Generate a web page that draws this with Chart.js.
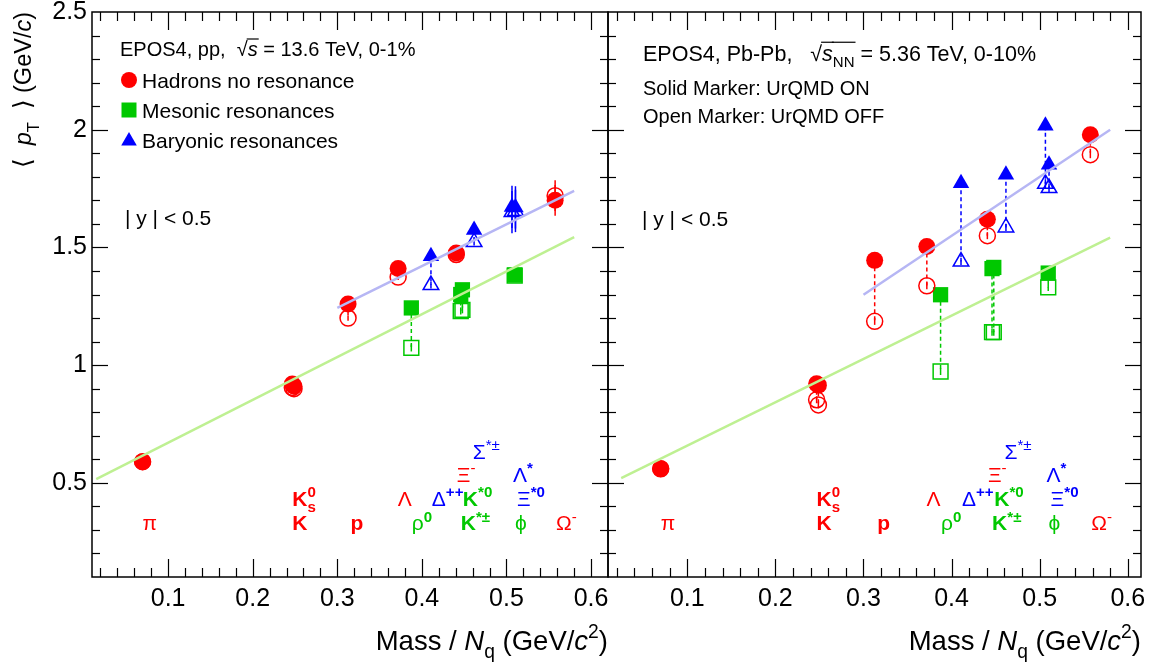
<!DOCTYPE html>
<html><head><meta charset="utf-8">
<script src="https://cdn.jsdelivr.net/npm/chart.js@4"></script>
<style>
html,body{margin:0;padding:0;background:#fff;}
#wrap{position:relative;width:1153px;height:663px;background:#fff;}
canvas{position:absolute;left:0;top:0;}
</style></head><body>
<div id="wrap"><canvas id="c1" width="1153" height="663"></canvas><canvas id="c2" width="1153" height="663"></canvas></div>
<script>
// ---------------- data ----------------
const xTickValues = [0.1, 0.2, 0.3, 0.4, 0.5, 0.6];
const yTickValues = [0.5, 1, 1.5, 2, 2.5];

const hadronNames = ['π', 'K', 'K0s', 'p', 'Λ', 'Ξ-', 'Ω-'];
const hadronMassNq = [0.0698, 0.2468, 0.2488, 0.3127, 0.3719, 0.4406, 0.5575];
const ppHadronOn  = [0.590, 0.920, 0.910, 1.260, 1.410, 1.476, 1.700];
const ppHadronOff = [0.590, 0.905, 0.900, 1.200, 1.374, 1.470, 1.720];
const ppHadronErr = [0.005, 0.005, 0.005, 0.012, 0.012, 0.012, 0.065];
const pbHadronOn  = [0.560, 0.921, 0.915, 1.445, 1.504, 1.620, 1.979];
const pbHadronOff = [0.560, 0.853, 0.831, 1.186, 1.337, 1.550, 1.894];
const pbHadronErr = [0.005, 0.015, 0.015, 0.015, 0.015, 0.015, 0.015];

const mesonNames = ['ρ0', 'K*0', 'K*±', 'φ'];
const mesonMassNq = [0.3875, 0.4479, 0.4459, 0.5097];
const ppMesonOn  = [1.243, 1.320, 1.300, 1.383];
const ppMesonOff = [1.073, 1.235, 1.230, 1.380];
const ppMesonErr = [0.015, 0.015, 0.015, 0.010];
const pbMesonOn  = [1.299, 1.415, 1.410, 1.391];
const pbMesonOff = [0.973, 1.140, 1.140, 1.330];
const pbMesonErr = [0.015, 0.015, 0.015, 0.015];

const baryonNames = ['Δ++', 'Σ*±', 'Λ*', 'Ξ*0'];
const baryonMassNq = [0.4107, 0.4617, 0.5065, 0.5106];
const ppBaryonOn  = [1.463, 1.574, 1.672, 1.670];
const ppBaryonOff = [1.340, 1.523, 1.650, 1.655];
const ppBaryonErr = [0.015, 0.015, 0.090, 0.090];
const pbBaryonOn  = [1.773, 1.809, 2.017, 1.851];
const pbBaryonOff = [1.440, 1.585, 1.770, 1.752];
const pbBaryonErr = [0.015, 0.015, 0.020, 0.020];

const hadronFitX = [0.300, 0.580];
const ppHadronFit = [1.243, 1.740];
const pbHadronFit = [1.299, 2.000];
const ppMesonFitX = [0.015, 0.580];
const pbMesonFitX = [0.025, 0.580];
const ppMesonFit = [0.516, 1.544];
const pbMesonFit = [0.520, 1.542];

// ---------------- styling ----------------
const FAM = '"Liberation Sans", Arial, Helvetica, "DejaVu Sans", sans-serif';
const RED = '#ff0000', GREEN = '#00c800', BLUE = '#0000ff';
const FITB = '#b6b6f4', FITG = '#bef092';

function pts(xs, ys) { return xs.map((x, i) => ({x: x, y: ys[i]})); }

function segFont(sg, size) { return (sg.f || '') + (size * (sg.s || 1)).toFixed(1) + 'px ' + (sg.fam || FAM); }
function measureRich(ctx, segs, size) {
  let w = 0;
  for (const sg of segs) { ctx.font = segFont(sg, size); if (sg.nx !== false) w += ctx.measureText(sg.t).width + (sg.gap || 0) * size; }
  return w;
}
function drawRich(ctx, segs, x, y, size, color, align) {
  const W = measureRich(ctx, segs, size);
  let cx = align === 'right' ? x - W : (align === 'center' ? x - W / 2 : x);
  const base = y + 0.36 * size;
  ctx.fillStyle = color; ctx.strokeStyle = color; ctx.textAlign = 'left'; ctx.textBaseline = 'alphabetic';
  for (const sg of segs) {
    ctx.font = segFont(sg, size);
    const w = ctx.measureText(sg.t).width;
    const by = base + (sg.dy || 0) * size;
    ctx.fillText(sg.t, cx, by);
    if (sg.ov) { ctx.lineWidth = 1.2; ctx.beginPath(); ctx.moveTo(cx - 1, base - 0.86 * size); ctx.lineTo(cx + w + 1, base - 0.86 * size); ctx.stroke(); }
    if (sg.nx !== false) cx += w + (sg.gap || 0) * size;
  }
  return W;
}

const SUP = -0.42, SUB = 0.3, SS = 0.72;
const particleLabels = [
  {segs: [{t: 'π'}], x: 0.0698, y: 0.33, c: RED},
  {segs: [{t: 'K', f: 'bold '}], x: 0.2468, y: 0.33, c: RED},
  {segs: [{t: 'K', f: 'bold '}, {t: 's', f: 'bold ', s: SS, dy: SUB, nx: false}, {t: '0', f: 'bold ', s: SS, dy: SUP}], x: 0.2468, y: 0.435, c: RED},
  {segs: [{t: 'p', f: 'bold '}], x: 0.3157, y: 0.33, c: RED},
  {segs: [{t: 'Λ'}], x: 0.3714, y: 0.435, c: RED},
  {segs: [{t: 'ρ'}, {t: '0', f: 'bold ', s: SS, dy: SUP}], x: 0.388, y: 0.33, c: GREEN},
  {segs: [{t: 'Δ'}, {t: '++', f: 'bold ', s: SS, dy: SUP}], x: 0.4117, y: 0.435, c: BLUE},
  {segs: [{t: 'K', f: 'bold '}, {t: '*0', f: 'bold ', s: SS, dy: SUP}], x: 0.4484, y: 0.435, c: GREEN},
  {segs: [{t: 'K', f: 'bold '}, {t: '*±', f: 'bold ', s: SS, dy: SUP}], x: 0.446, y: 0.33, c: GREEN},
  {segs: [{t: 'Ξ'}, {t: '-', s: SS, dy: SUP}], x: 0.4413, y: 0.535, c: RED},
  {segs: [{t: 'Σ'}, {t: '*±', s: SS, dy: SUP}], x: 0.460, y: 0.635, c: BLUE},
  {segs: [{t: 'Λ'}, {t: '*', f: 'bold ', s: SS, dy: SUP}], x: 0.5076, y: 0.535, c: BLUE},
  {segs: [{t: 'Ξ'}, {t: '*0', f: 'bold ', s: SS, dy: SUP}], x: 0.5124, y: 0.435, c: BLUE},
  {segs: [{t: 'ϕ'}], x: 0.510, y: 0.33, c: GREEN},
  {segs: [{t: 'Ω'}, {t: '-', s: SS, dy: SUP}], x: 0.5586, y: 0.33, c: RED}
];

function line(ctx, x1, y1, x2, y2) { ctx.beginPath(); ctx.moveTo(x1, y1); ctx.lineTo(x2, y2); ctx.stroke(); }

function decorPlugin(cfg) {
  return {
    id: 'decor',
    beforeDatasetsDraw(chart) {
      const {ctx, scales: {x, y}} = chart;
      ctx.save();
      ctx.lineWidth = 1.5; ctx.setLineDash([4, 3]);
      for (const g of cfg.groups) {
        ctx.strokeStyle = g.color;
        g.mass.forEach((m, i) => {
          const px = x.getPixelForValue(m);
          line(ctx, px, y.getPixelForValue(g.on[i]), px, y.getPixelForValue(g.off[i]));
        });
      }
      ctx.setLineDash([]);
      for (const g of cfg.groups) {
        ctx.strokeStyle = g.color; ctx.lineWidth = 1.5;
        g.mass.forEach((m, i) => {
          const px = x.getPixelForValue(m), e = g.err[i];
          for (const v of [g.on[i], g.off[i]]) line(ctx, px, y.getPixelForValue(v - e), px, y.getPixelForValue(v + e));
        });
      }
      ctx.restore();
    },
    afterDraw(chart) {
      const {ctx, chartArea: a, scales: {x, y}} = chart;
      ctx.save();
      ctx.strokeStyle = '#000'; ctx.lineWidth = 1.5;
      ctx.strokeRect(a.left, a.top, a.right - a.left, a.bottom - a.top);
      ctx.lineWidth = 1.2;
      for (let i = 1; i <= 31; i++) {
        const v = i * 0.02;
        if (v <= x.min + 1e-6 || v >= x.max - 1e-6) continue;
        const px = Math.round(x.getPixelForValue(v)) + 0.5;
        const L = (i % 5 === 0) ? 18 : 9;
        line(ctx, px, a.bottom, px, a.bottom - L);
        line(ctx, px, a.top, px, a.top + L);
      }
      for (let i = 2; i <= 24; i++) {
        const v = i * 0.1;
        const py = Math.round(y.getPixelForValue(v)) + 0.5;
        const L = (i % 5 === 0) ? 16 : 8;
        line(ctx, a.left, py, a.left + L, py);
        line(ctx, a.right, py, a.right - L, py);
      }
      for (const lb of particleLabels) drawRich(ctx, lb.segs, x.getPixelForValue(lb.x), y.getPixelForValue(lb.y), 21, lb.c, 'left');
      drawRich(ctx, [{t: 'Mass / '}, {t: 'N', f: 'italic '}, {t: 'q', s: 0.7, dy: 0.3}, {t: ' (GeV/'}, {t: 'c', f: 'italic '}, {t: '2', s: 0.7, dy: -0.42}, {t: ')'}], a.right, 640, 27.5, '#000', 'right');
      cfg.texts(ctx, a);
      ctx.restore();
    }
  };
}

function legendMarker(ctx, type, cx, cy, color) {
  ctx.fillStyle = color; ctx.beginPath();
  if (type === 'circle') ctx.arc(cx, cy, 8, 0, Math.PI * 2);
  else if (type === 'rect') ctx.rect(cx - 7.5, cy - 7.5, 15, 15);
  else { ctx.moveTo(cx, cy - 9); ctx.lineTo(cx + 7.8, cy + 4.5); ctx.lineTo(cx - 7.8, cy + 4.5); ctx.closePath(); }
  ctx.fill();
}

function datasets(p) {
  const open = 'rgba(0,0,0,0)';
  return [
    {data: pts(hadronFitX, p.hadFit), showLine: true, borderColor: FITB, borderWidth: 2.5, pointRadius: 0},
    {data: pts(p.mesFitX, p.mesFit), showLine: true, borderColor: FITG, borderWidth: 2.5, pointRadius: 0},
    {data: pts(hadronMassNq, p.hadOff), pointStyle: 'circle', pointRadius: 8, backgroundColor: open, borderColor: RED, borderWidth: 1.5},
    {data: pts(mesonMassNq, p.mesOff), pointStyle: 'rect', pointRadius: 10.5, backgroundColor: open, borderColor: GREEN, borderWidth: 1.5},
    {data: pts(baryonMassNq, p.barOff), pointStyle: 'triangle', pointRadius: 9, backgroundColor: open, borderColor: BLUE, borderWidth: 1.5},
    {data: pts(hadronMassNq, p.hadOn), pointStyle: 'circle', pointRadius: 8.5, backgroundColor: RED, borderColor: RED, borderWidth: 0},
    {data: pts(mesonMassNq, p.mesOn), pointStyle: 'rect', pointRadius: 10.8, backgroundColor: GREEN, borderColor: GREEN, borderWidth: 0},
    {data: pts(baryonMassNq, p.barOn), pointStyle: 'triangle', pointRadius: 9.5, backgroundColor: BLUE, borderColor: BLUE, borderWidth: 0}
  ];
}

function makeChart(id, p) {
  return new Chart(document.getElementById(id), {
    type: 'scatter',
    data: {datasets: datasets(p)},
    options: {
      responsive: false, animation: false, devicePixelRatio: 1,
      layout: {padding: {left: p.padL, right: p.padR, top: 12, bottom: 0}},
      plugins: {legend: {display: false}, tooltip: {enabled: false}},
      elements: {point: {hoverRadius: 0}},
      scales: {
        x: {
          type: 'linear', min: 0.01, max: p.xmax,
          grid: {display: false, drawTicks: false}, border: {display: false},
          afterBuildTicks: s => { s.ticks = xTickValues.map(v => ({value: v})); },
          afterFit: s => { s.height = 86; s.paddingLeft = 0; s.paddingRight = 0; },
          ticks: {font: {family: FAM, size: 25}, color: '#000', padding: 7, autoSkip: false, maxRotation: 0, callback: v => Number(v).toFixed(1)}
        },
        y: {
          type: 'linear', min: 0.1, max: 2.5,
          grid: {display: false, drawTicks: false}, border: {display: false},
          afterBuildTicks: s => { s.ticks = yTickValues.map(v => ({value: v})); },
          afterFit: s => { s.width = p.yW; s.paddingTop = 0; s.paddingBottom = 0; },
          ticks: {display: p.yLabels, font: {family: FAM, size: 25}, color: '#000', padding: 5, autoSkip: false, callback: v => String(v)}
        }
      }
    },
    plugins: [decorPlugin({
      groups: [
        {mass: hadronMassNq, on: p.hadOn, off: p.hadOff, err: p.hadErr, color: RED},
        {mass: mesonMassNq, on: p.mesOn, off: p.mesOff, err: p.mesErr, color: GREEN},
        {mass: baryonMassNq, on: p.barOn, off: p.barOff, err: p.barErr, color: BLUE}
      ],
      texts: p.texts
    })]
  });
}

makeChart('c1', {
  padL: 0, padR: 1153 - 608, yW: 92, yLabels: true, xmax: 0.62,
  hadOn: ppHadronOn, hadOff: ppHadronOff, hadErr: ppHadronErr,
  mesOn: ppMesonOn, mesOff: ppMesonOff, mesErr: ppMesonErr,
  barOn: ppBaryonOn, barOff: ppBaryonOff, barErr: ppBaryonErr,
  hadFit: ppHadronFit, mesFitX: ppMesonFitX, mesFit: ppMesonFit,
  texts: (ctx, a) => {
    drawRich(ctx, [{t: 'EPOS4, pp,  '}, {t: '√'}, {t: 's', f: 'italic ', ov: true}, {t: ' = 13.6 TeV, 0-1%'}], 120, 49, 20, '#000', 'left');
    legendMarker(ctx, 'circle', 129, 80, RED);
    legendMarker(ctx, 'rect', 129, 110, GREEN);
    legendMarker(ctx, 'tri', 129, 141, BLUE);
    drawRich(ctx, [{t: 'Hadrons no resonance'}], 142, 80, 21, '#000', 'left');
    drawRich(ctx, [{t: 'Mesonic resonances'}], 142, 110, 21, '#000', 'left');
    drawRich(ctx, [{t: 'Baryonic resonances'}], 142, 140, 21, '#000', 'left');
    drawRich(ctx, [{t: '| y | < 0.5'}], 125, 217, 21, '#000', 'left');
    ctx.save();
    const segs = [{t: '⟨', fam: '"DejaVu Sans", sans-serif', s: 1.05}, {t: '  '}, {t: 'p', f: 'italic '}, {t: 'T', s: 0.7, dy: 0.3}, {t: '  '}, {t: '⟩', fam: '"DejaVu Sans", sans-serif', s: 1.05}, {t: ' (GeV/'}, {t: 'c', f: 'italic '}, {t: ')'}];
    const W = measureRich(ctx, segs, 23.5);
    ctx.translate(23, 12 + W); ctx.rotate(-Math.PI / 2);
    drawRich(ctx, segs, 0, 0, 23.5, '#000', 'left');
    ctx.restore();
  }
});

makeChart('c2', {
  padL: 608, padR: 11, yW: 0, yLabels: false, xmax: 0.615,
  hadOn: pbHadronOn, hadOff: pbHadronOff, hadErr: pbHadronErr,
  mesOn: pbMesonOn, mesOff: pbMesonOff, mesErr: pbMesonErr,
  barOn: pbBaryonOn, barOff: pbBaryonOff, barErr: pbBaryonErr,
  hadFit: pbHadronFit, mesFitX: pbMesonFitX, mesFit: pbMesonFit,
  texts: (ctx, a) => {
    drawRich(ctx, [{t: 'EPOS4, Pb-Pb,   '}, {t: '√'}, {t: 's', f: 'italic ', ov: true}, {t: 'NN', s: 0.7, dy: 0.3, ov: true}, {t: ' = 5.36 TeV, 0-10%'}], 643, 53, 21.5, '#000', 'left');
    drawRich(ctx, [{t: 'Solid Marker: UrQMD ON'}], 643, 88, 20, '#000', 'left');
    drawRich(ctx, [{t: 'Open Marker: UrQMD OFF'}], 643, 116, 20, '#000', 'left');
    drawRich(ctx, [{t: '| y | < 0.5'}], 642, 218, 21, '#000', 'left');
  }
});
</script>
</body></html>
